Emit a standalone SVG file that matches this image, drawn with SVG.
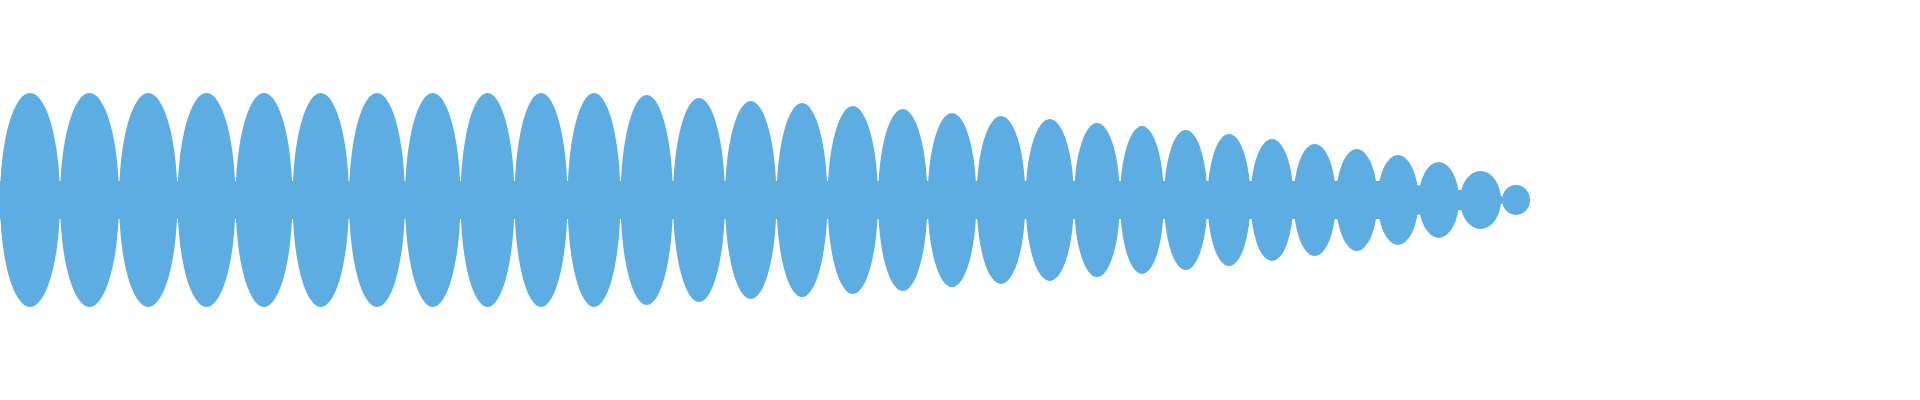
<svg xmlns="http://www.w3.org/2000/svg" width="1920" height="400" viewBox="0 0 1920 400">
<style>.w{fill:#5DADE2}</style>
<rect width="1920" height="400" fill="#fff"/>
<g id="wave" class="w">
<polygon points="0,181 1380,181 1460,190 1502,196 1502,204 1460,210 1380,219 0,219"/>
<ellipse cx="30" cy="200" rx="30" ry="107"/>
<ellipse cx="89.5" cy="200" rx="29.5" ry="107"/>
<ellipse cx="148.25" cy="200" rx="29.25" ry="107"/>
<ellipse cx="206.5" cy="200" rx="29" ry="107"/>
<ellipse cx="264" cy="200" rx="28.5" ry="107"/>
<ellipse cx="320.75" cy="200" rx="28.25" ry="107"/>
<ellipse cx="377" cy="200" rx="28" ry="107"/>
<ellipse cx="432.75" cy="200" rx="27.75" ry="107"/>
<ellipse cx="487.5" cy="200" rx="27" ry="107"/>
<ellipse cx="541" cy="200" rx="26.5" ry="107"/>
<ellipse cx="594" cy="200" rx="26.5" ry="107"/>
<ellipse cx="646.75" cy="200" rx="26.25" ry="105"/>
<ellipse cx="699" cy="200" rx="26" ry="102"/>
<ellipse cx="750.75" cy="200" rx="25.75" ry="99"/>
<ellipse cx="802" cy="200" rx="25.5" ry="97"/>
<ellipse cx="852.75" cy="200" rx="25.25" ry="94"/>
<ellipse cx="902.75" cy="200" rx="24.75" ry="91"/>
<ellipse cx="952" cy="200" rx="24.5" ry="87"/>
<ellipse cx="1001" cy="200" rx="24.5" ry="84"/>
<ellipse cx="1049.75" cy="200" rx="24.25" ry="81"/>
<ellipse cx="1097" cy="200" rx="23" ry="77"/>
<ellipse cx="1142" cy="200" rx="22" ry="74"/>
<ellipse cx="1185.75" cy="200" rx="21.75" ry="70"/>
<ellipse cx="1229" cy="200" rx="21.5" ry="66"/>
<ellipse cx="1272" cy="200" rx="21.5" ry="61"/>
<ellipse cx="1314.75" cy="200" rx="21.25" ry="56"/>
<ellipse cx="1356.75" cy="200" rx="20.75" ry="51"/>
<ellipse cx="1398" cy="200" rx="20.5" ry="45"/>
<ellipse cx="1438.75" cy="200" rx="20.25" ry="38"/>
<ellipse cx="1480.5" cy="200" rx="20.5" ry="29"/>
<ellipse cx="1516" cy="200" rx="14" ry="15"/>
</g>
</svg>
